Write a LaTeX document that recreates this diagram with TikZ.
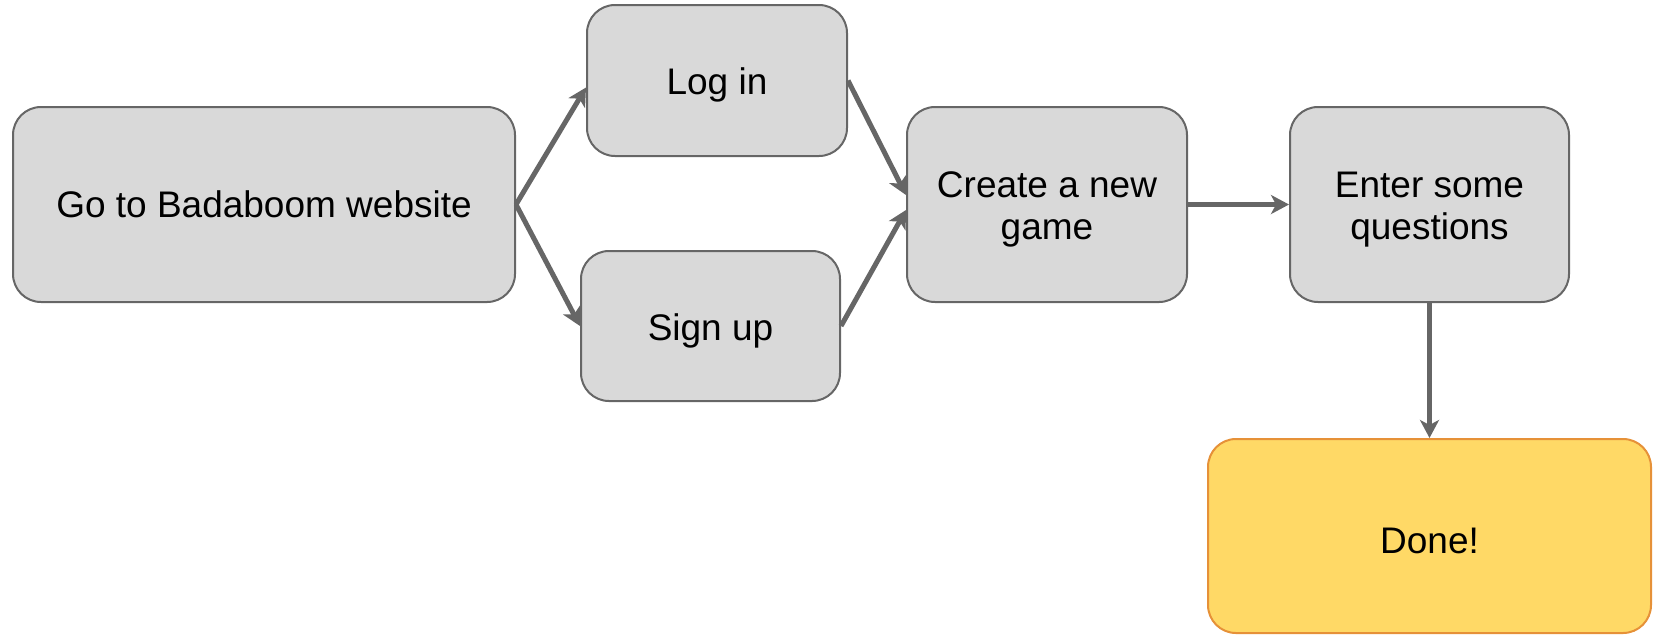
\documentclass[tikz,border=0pt]{standalone}
\usepackage{fontspec}
\setmainfont{Liberation Sans}
\usetikzlibrary{arrows.meta}
\definecolor{boxgray}{HTML}{D9D9D9}
\definecolor{linegray}{HTML}{666666}
\definecolor{doneyellow}{HTML}{FFD966}
\definecolor{doneorange}{HTML}{E69138}
\begin{document}
\begin{tikzpicture}[x=0.5pt,y=-0.5pt,
    every node/.append style={font=\fontsize{18.5}{21}\selectfont,align=center},
    stepbox/.style={draw=linegray,fill=boxgray,line width=1pt,rounded corners=14pt},
    donebox/.style={draw=doneorange,fill=doneyellow,line width=1pt,rounded corners=14pt},
    lowtext/.style={text height=18pt},
    lowtwo/.style={text height=39pt},
    link/.style={draw=linegray,line width=2.5pt,-{Stealth[length=9pt,width=9.5pt,inset=2.5pt]}}]
    \useasboundingbox (0,0) rectangle (1655,639);
    \node[stepbox,minimum width=251pt,minimum height=97.5pt] (site) at (264,204.5) {Go to Badaboom website};
    \node[stepbox,lowtext,minimum width=130pt,minimum height=75.5pt] (login) at (717,80.5) {Log in};
    \node[stepbox,lowtext,minimum width=129.5pt,minimum height=75pt] (signup) at (710.5,326) {Sign up};
    \node[stepbox,lowtwo,minimum width=140pt,minimum height=97.5pt] (game) at (1047,204.5) {Create a new\\game};
    \node[stepbox,lowtwo,minimum width=139.5pt,minimum height=97.5pt] (questions) at (1429.5,204.5) {Enter some\\questions};
    \node[donebox,lowtext,minimum width=221.5pt,minimum height=97pt] (done) at (1429.5,536) {Done!};
    \draw[link] (site.east) -- ([yshift=-3.5pt]login.west);
    \draw[link] (site.east) -- (signup.west);
    \draw[link] (login.east) -- ([yshift=4.75pt]game.west);
    \draw[link] (signup.east) -- ([yshift=-2.75pt]game.west);
    \draw[link] (game.east) -- (questions.west);
    \draw[link] (questions.south) -- (done.north);
\end{tikzpicture}
\end{document}
